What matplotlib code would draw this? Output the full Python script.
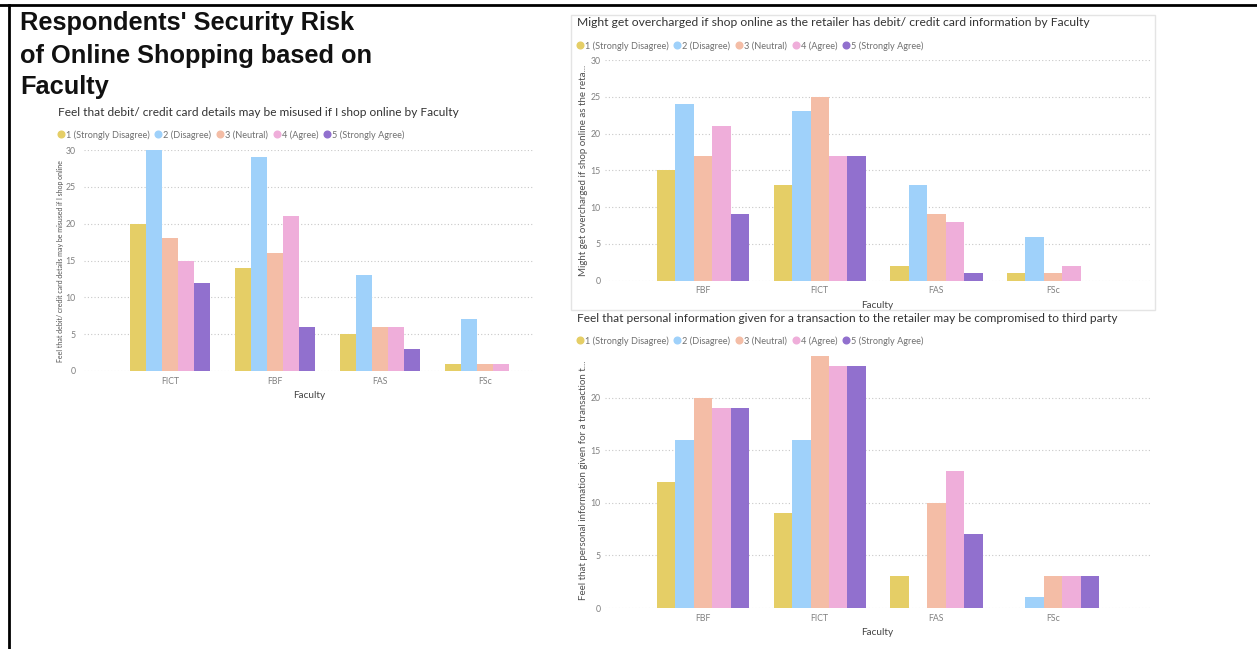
import matplotlib
matplotlib.use("Agg")
import matplotlib.pyplot as plt
from matplotlib.lines import Line2D
from matplotlib.patches import Rectangle
import numpy as np

W, H, DPI = 1257, 649, 100

# Response levels and colours
levels = ["1 (Strongly Disagree)", "2 (Disagree)", "3 (Neutral)", "4 (Agree)", "5 (Strongly Agree)"]
colors = ["#E5CE66", "#9FD1FA", "#F4BDA6", "#EFAEDA", "#9170CE"]

# Chart 1: debit/credit card details may be misused
faculties_misuse = ["FICT", "FBF", "FAS", "FSc"]
misuse_1 = [20, 14, 5, 1]
misuse_2 = [30, 29, 13, 7]
misuse_3 = [18, 16, 6, 1]
misuse_4 = [15, 21, 6, 1]
misuse_5 = [12, 6, 3, 0]

# Chart 2: might get overcharged
faculties_over = ["FBF", "FICT", "FAS", "FSc"]
over_1 = [15, 13, 2, 1]
over_2 = [24, 23, 13, 6]
over_3 = [17, 25, 9, 1]
over_4 = [21, 17, 8, 2]
over_5 = [9, 17, 1, 0]

# Chart 3: personal information compromised to third party
faculties_third = ["FBF", "FICT", "FAS", "FSc"]
third_1 = [12, 9, 3, 0]
third_2 = [16, 16, 0, 1]
third_3 = [20, 24, 10, 3]
third_4 = [19, 23, 13, 3]
third_5 = [19, 23, 7, 3]

plt.rcParams["font.family"] = ["Lato", "DejaVu Sans"]

fig = plt.figure(figsize=(W / DPI, H / DPI), dpi=DPI)
fig.patch.set_facecolor("white")


def fx(x):
    return x / W


def fy(y):
    return 1 - y / H


def px_axes(left, top, right, bottom):
    return fig.add_axes([left / W, 1 - bottom / H, (right - left) / W, (bottom - top) / H])


def grouped_bars(ax, cats, series, bar_w, xlim, ylim, yticks, ylabel, ylabel_size, ypad, ylabelpad):
    x = np.arange(len(cats))
    for i, vals in enumerate(series):
        ax.bar(x + (i - 2) * bar_w, vals, width=bar_w, color=colors[i], zorder=3)
    ax.set_xlim(*xlim)
    ax.set_ylim(*ylim)
    ax.set_yticks(yticks)
    ax.set_xticks(x)
    ax.set_xticklabels(cats)
    for s in ax.spines.values():
        s.set_visible(False)
    ax.tick_params(axis="both", length=0, labelsize=6.3, labelcolor="#808080")
    ax.tick_params(axis="y", pad=ypad)
    ax.tick_params(axis="x", pad=4)
    ax.grid(axis="y", color="#C8C8C8", linestyle=(0, (1, 2)), linewidth=0.8, zorder=0)
    ax.set_xlabel("Faculty", fontsize=7.2, color="#444444", labelpad=4)
    ax.set_ylabel(ylabel, fontsize=ylabel_size, color="#505050", labelpad=ylabelpad)
    ax.set_facecolor("none")


def legend_row(x, y):
    handles = [Line2D([0], [0], marker="o", linestyle="none", markersize=4.8,
                      markerfacecolor=c, markeredgecolor=c) for c in colors]
    fig.legend(handles, levels, loc="upper left", bbox_to_anchor=(fx(x), fy(y)),
               ncol=5, frameon=False, fontsize=6.6, labelcolor="#707070",
               handletextpad=0.15, columnspacing=0.55, borderpad=0, borderaxespad=0,
               handlelength=0.8)


# Outer frame lines (top and left)
fig.add_artist(Line2D([0, 1], [fy(5), fy(5)], color="black", linewidth=2, transform=fig.transFigure))
fig.add_artist(Line2D([fx(8.5), fx(8.5)], [fy(5), 0], color="black", linewidth=2, transform=fig.transFigure))

# Page title
title_lines = ["Respondents' Security Risk", "of Online Shopping based on", "Faculty"]
for line, ypix in zip(title_lines, [23, 56, 87]):
    fig.text(fx(20), fy(ypix), line, fontsize=18.3, fontweight="bold",
             family="Liberation Sans", color="#111111", va="center", ha="left")

# Chart 1
ax1 = px_axes(84, 150, 534, 371)
grouped_bars(ax1, faculties_misuse, [misuse_1, misuse_2, misuse_3, misuse_4, misuse_5],
             0.152, (-0.82, 3.47), (0, 30), [0, 5, 10, 15, 20, 25, 30],
             "Feel that debit/ credit card details may be misused if I shop online", 5, 6, 1)
fig.text(fx(58), fy(113), "Feel that debit/ credit card details may be misused if I shop online by Faculty",
         fontsize=8.55, color="#333333", va="center", ha="left")
legend_row(57, 130)

# Chart 2 frame
fig.add_artist(Rectangle((fx(571), fy(310)), fx(1155) - fx(571), fy(15) - fy(310),
                         transform=fig.transFigure, fill=False, edgecolor="#E4E4E4", linewidth=1))

ax2 = px_axes(605, 60, 1150, 280.7)
grouped_bars(ax2, faculties_over, [over_1, over_2, over_3, over_4, over_5],
             0.158, (-0.84, 3.83), (0, 30), [0, 5, 10, 15, 20, 25, 30],
             "Might get overcharged if shop online as the reta...", 7, 3, 2)
fig.text(fx(577), fy(23), "Might get overcharged if shop online as the retailer has debit/ credit card information by Faculty",
         fontsize=8.7, color="#333333", va="center", ha="left")
legend_row(576, 41)

# Chart 3
ax3 = px_axes(605, 352.8, 1150, 608)
grouped_bars(ax3, faculties_third, [third_1, third_2, third_3, third_4, third_5],
             0.158, (-0.84, 3.83), (0, 24.3), [0, 5, 10, 15, 20],
             "Feel that personal information given for a transaction t...", 7, 3, 2)
fig.text(fx(577), fy(318), "Feel that personal information given for a transaction to the retailer may be compromised to third party",
         fontsize=8.6, color="#333333", va="center", ha="left")
legend_row(576, 336)

fig.savefig("out.png", dpi=DPI, facecolor="white")
